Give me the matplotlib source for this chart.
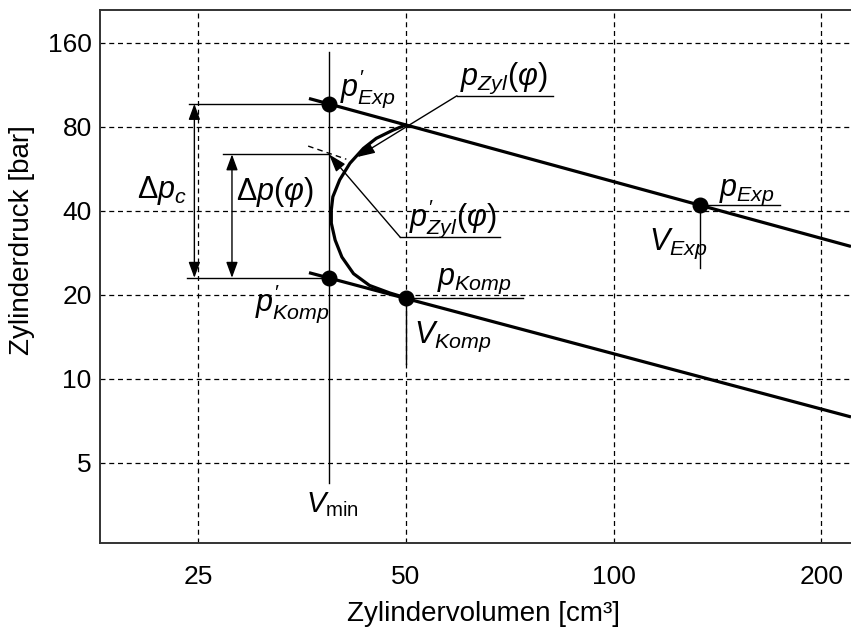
import matplotlib
matplotlib.use("Agg")
import matplotlib.pyplot as plt

plt.rcParams['font.family'] = ['Liberation Sans', 'DejaVu Sans']
plt.rcParams['mathtext.fontset'] = 'custom'
plt.rcParams['mathtext.rm'] = 'Liberation Sans'
plt.rcParams['mathtext.it'] = 'Liberation Sans:italic'
plt.rcParams['mathtext.bf'] = 'Liberation Sans:bold'

# axis ticks
x_ticks = [25, 50, 100, 200]
y_ticks = [5, 10, 20, 40, 80, 160]

# polytropic lines (start / end of each straight line in log-log)
V_exp_line = [36.2, 220.7]
p_exp_line = [101.0, 29.8]
V_komp_line = [36.2, 220.7]
p_komp_line = [24.0, 7.3]

# characteristic points
V_min = 38.7
p_exp_prime = 96.6
p_komp_prime = 23.0
V_komp, p_komp = 50.0, 19.4
V_exp, p_exp = 133.5, 41.9
p_zyl_prime = 63.7

# cylinder pressure around TDC
V_zyl = [50.0, 47.9, 45.3, 43.4, 41.5, 40.1, 39.2, 39.0, 39.0, 39.5, 40.4, 42.0, 44.3, 47.4, 50.0]
p_zyl = [81.2, 77.8, 72.7, 66.9, 59.2, 51.6, 44.9, 40.3, 36.1, 31.4, 27.3, 23.8, 21.6, 20.3, 19.5]

# dashed tangent at the curve
V_tan = [36.1, 41.0]
p_tan = [68.2, 61.2]

fig = plt.figure(figsize=(8.51, 6.33), dpi=100)
ax = fig.add_axes([100/851, 1-543/633, 751/851, 533/633])
ax.set_xscale('log')
ax.set_yscale('log')
ax.set_xlim(18.03, 220.7)
ax.set_ylim(2.58, 209.6)

ax.set_xticks(x_ticks)
ax.set_xticklabels([str(t) for t in x_ticks])
ax.set_yticks(y_ticks)
ax.set_yticklabels([str(t) for t in y_ticks])
ax.minorticks_off()
ax.tick_params(length=0, labelsize=19)
ax.tick_params(axis='x', pad=16)
ax.tick_params(axis='y', pad=6)
ax.grid(True, color='black', linestyle=(0, (4, 3)), linewidth=0.9)
ax.set_axisbelow(True)
for s in ['left', 'bottom', 'top']:
    ax.spines[s].set_linewidth(1.4)
    ax.spines[s].set_color('#333333')
ax.spines['right'].set_visible(False)

ax.set_xlabel('Zylindervolumen [cm³]', fontsize=20)
ax.set_ylabel('Zylinderdruck [bar]', fontsize=20)
ax.xaxis.set_label_coords(0.51, -0.108)
ax.yaxis.set_label_coords(-0.087, 0.568)

lw_thick = 2.3
lw_thin = 1.0

# expansion and compression lines
ax.plot(V_exp_line, p_exp_line, color='black', lw=lw_thick, solid_capstyle='butt')
ax.plot(V_komp_line, p_komp_line, color='black', lw=lw_thick, solid_capstyle='butt')
ax.plot(V_zyl, p_zyl, color='black', lw=lw_thick, solid_joinstyle='round')
ax.plot(V_tan, p_tan, color='black', lw=lw_thin, linestyle=(0, (4, 3)))

# V_min line and helper lines
ax.plot([V_min, V_min], [4.24, 148.5], color='black', lw=lw_thin)
ax.plot([V_komp, V_komp], [p_komp, 11.3], color='black', lw=lw_thin)
ax.plot([V_komp, 74.0], [p_komp, p_komp], color='black', lw=lw_thin)
ax.plot([V_exp, V_exp], [p_exp, 24.9], color='black', lw=lw_thin)
ax.plot([V_exp, 174.0], [p_exp, p_exp], color='black', lw=lw_thin)
ax.plot([24.3, V_min], [p_exp_prime, p_exp_prime], color='black', lw=lw_thin)
ax.plot([24.1, V_min], [p_komp_prime, p_komp_prime], color='black', lw=lw_thin)
ax.plot([27.2, V_min], [p_zyl_prime, p_zyl_prime], color='black', lw=lw_thin)
ax.plot([49.1, 68.5], [32.1, 32.1], color='black', lw=lw_thin)
ax.plot([59.3, 81.7], [103.3, 103.3], color='black', lw=lw_thin)

# points
ax.plot([V_min, V_min, V_komp, V_exp], [p_exp_prime, p_komp_prime, p_komp, p_exp],
        'o', color='black', markersize=10.5, zorder=5)

# pressure differences
ax.annotate('', xy=(24.7, p_komp_prime), xytext=(24.7, p_exp_prime),
            arrowprops=dict(arrowstyle='<|-|>,head_length=0.6,head_width=0.22',
                            mutation_scale=16, color='black', lw=lw_thin, shrinkA=0, shrinkB=0))
ax.annotate('', xy=(28.0, p_komp_prime), xytext=(28.0, p_zyl_prime),
            arrowprops=dict(arrowstyle='<|-|>,head_length=0.6,head_width=0.22',
                            mutation_scale=16, color='black', lw=lw_thin, shrinkA=0, shrinkB=0))

# leader arrows
ax.annotate('', xy=(42.5, 62.3), xytext=(59.3, 103.3),
            arrowprops=dict(arrowstyle='-|>,head_length=0.6,head_width=0.2',
                            mutation_scale=18, color='black', lw=lw_thin, shrinkA=0, shrinkB=0))
ax.annotate('', xy=(V_min, p_zyl_prime), xytext=(49.1, 32.1),
            arrowprops=dict(arrowstyle='-|>,head_length=0.6,head_width=0.2',
                            mutation_scale=18, color='black', lw=lw_thin, shrinkA=0, shrinkB=0))

fs = 22
txt = dict(fontsize=fs, ha='left', va='baseline')
ax.text(40.2, 103.9, r"$p^{\prime}_{Exp}$", **txt)
ax.text(60.0, 112.9, r"$p_{Zyl}(\varphi)$", **txt)
ax.text(20.4, 44.4, r"$\Delta p_{c}$", **txt)
ax.text(28.4, 43.7, r"$\Delta p(\varphi)$", **txt)
ax.text(50.5, 35.5, r"$p^{\prime}_{Zyl}(\varphi)$", **txt)
ax.text(55.5, 21.7, r"$p_{Komp}$", **txt)
ax.text(30.2, 17.6, r"$p^{\prime}_{Komp}$", **txt)
ax.text(51.3, 13.4, r"$V_{Komp}$", **txt)
ax.text(35.9, 3.33, r"$V_{\mathrm{min}}$", fontsize=21, ha='left', va='baseline')
ax.text(142.0, 45.2, r"$p_{Exp}$", **txt)
ax.text(112.4, 28.9, r"$V_{Exp}$", **txt)

fig.savefig('out.png', dpi=100)
